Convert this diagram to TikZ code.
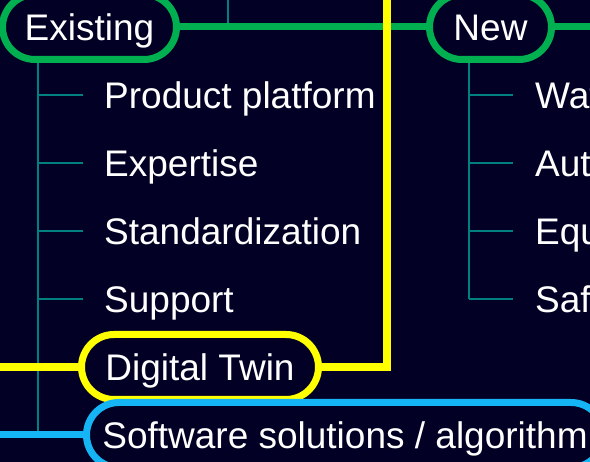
\documentclass[tikz,border=0pt]{standalone}
\usepackage{fontspec}
\setmainfont{Liberation Sans}
\usetikzlibrary{calc}
\definecolor{bg}{RGB}{2,0,36}
\definecolor{grn}{RGB}{0,176,80}
\definecolor{ylw}{RGB}{255,255,0}
\definecolor{blu}{RGB}{20,180,245}
\definecolor{tl}{RGB}{0,128,128}
\newcommand\bigtxt{\fontsize{37}{44}\selectfont}
\begin{document}
\begin{tikzpicture}[x=1pt,y=-1pt,
  pill/.style={draw, line width=7pt, fill=bg, rounded corners=32.5pt,
    minimum height=65pt, inner sep=0pt, text=white, font=\bigtxt,
    text height=26.5pt, text depth=0pt},
  item/.style={anchor=west, inner sep=0pt, text=white, font=\bigtxt,
    text height=26.5pt, text depth=0pt},
  twig/.style={draw=tl, line width=1.3pt},
  gline/.style={draw=grn, line width=7pt},
  yline/.style={draw=ylw, line width=8pt},
  bline/.style={draw=blu, line width=7pt}]
\useasboundingbox (0,0) rectangle (590,462);
\fill[bg] (0,0) rectangle (590,462);
\clip (0,0) rectangle (590,462);

% coordinates for free ends
\coordinate (exv) at (38,0);
\coordinate (nwv) at (469,0);
\coordinate (tt) at (228,-5);
\coordinate (gr) at (600,27);
\coordinate (yl) at (-10,367);
\coordinate (yt) at (387,-10);
\coordinate (bl) at (-10,435);
\coordinate (bend) at (38,435);

% items (left)
\node[item] (pp) at (104,95) {Product platform};
\node[item] (xp) at (104,163) {Expertise};
\node[item] (st) at (104,231) {Standardization};
\node[item] (su) at (104,299) {Support};
% items (right)
\node[item] (wa) at (535,95) {Wat};
\node[item] (au) at (535,163) {Aut};
\node[item] (eq) at (535,231) {Equ};
\node[item] (sa) at (535,299) {Saf};

% invisible placeholders for pills to route lines first
\path (89.5,27) node[pill, draw=none, fill=none, minimum width=174pt] (ex0) {\phantom{Existing}};
\path (490.5,27) node[pill, draw=none, fill=none, minimum width=122pt] (nw0) {\phantom{New}};

% teal tree lines
\draw[twig] (tt) -- (tt |- ex0.east);
\draw[twig] (exv |- ex0.south) -- (bend);
\foreach \n in {pp,xp,st,su} {
  \draw[twig] (exv |- \n.west) -- ([xshift=-21pt]\n.west);
}
\draw[twig] (nwv |- nw0.south) -- (nwv |- sa.west);
\foreach \n in {wa,au,eq,sa} {
  \draw[twig] (nwv |- \n.west) -- ([xshift=-22pt]\n.west);
}

% green line
\draw[gline] (ex0.east) -- (nw0.west);
\draw[gline] (nw0.east) -- (gr);

% pills
\node[pill, draw=grn, minimum width=174pt] (ex) at (89.5,27) {Existing};
\node[pill, draw=grn, minimum width=122pt] (nw) at (490.5,27) {New};
\node[pill, draw=ylw, minimum width=237pt] (dt) at (200,367) {Digital Twin};
\node[pill, draw=blu, minimum width=517pt] (sw) at (345,435) {Software solutions / algorithm};

% yellow and blue lines
\draw[yline] (yl) -- (dt.west);
\draw[yline] (dt.east) -| (yt);
\draw[bline] (bl) -- (sw.west);
\end{tikzpicture}
\end{document}
